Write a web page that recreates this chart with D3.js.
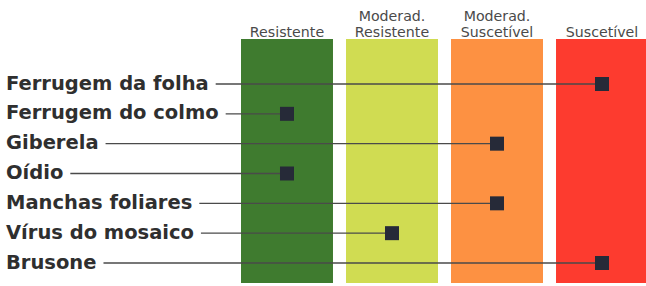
<!DOCTYPE html>
<html>
<head>
<meta charset="utf-8">
<script src="https://cdn.jsdelivr.net/npm/d3@7/dist/d3.min.js"></script>
<style>
  html, body { margin: 0; padding: 0; background: #fff; }
  svg { display: block; }
</style>
</head>
<body>
<svg id="chart" width="646" height="286"></svg>
<script>
// ---- data ----
const categories = ["Resistente", "Moderad. Resistente", "Moderad. Suscetível", "Suscetível"];
const categoryLines = [["Resistente"], ["Moderad.", "Resistente"], ["Moderad.", "Suscetível"], ["Suscetível"]];
const categoryColors = ["#3f7b2f", "#d0dc52", "#fd9142", "#fd3b2f"];
const diseases = ["Ferrugem da folha", "Ferrugem do colmo", "Giberela", "Oídio", "Manchas foliares", "Vírus do mosaico", "Brusone"];
const reaction = ["Suscetível", "Resistente", "Moderad. Suscetível", "Resistente", "Moderad. Suscetível", "Moderad. Resistente", "Suscetível"];

// ---- drawing ----
(function () {
  const svg = d3.select("#chart");
  const x = d3.scaleBand().domain(categories).range([241, 648]).paddingInner(0.124).paddingOuter(0);
  const y = d3.scalePoint().domain(diseases).range([84, 263]).padding(0);
  const colTop = 39, colBottom = 283;

  // columns
  svg.append("g").selectAll("rect").data(categories).join("rect")
    .attr("x", d => x(d)).attr("y", colTop)
    .attr("width", x.bandwidth()).attr("height", colBottom - colTop)
    .attr("fill", (d, i) => categoryColors[i]);

  // column headers
  const hdr = svg.append("g")
    .attr("font-family", "DejaVu Sans, sans-serif")
    .attr("font-size", 14.2)
    .attr("fill", "#4a4a4a")
    .attr("text-anchor", "middle");
  categories.forEach((c, i) => {
    const lines = categoryLines[i];
    lines.forEach((t, j) => {
      hdr.append("text")
        .attr("x", x(c) + x.bandwidth() / 2)
        .attr("y", 37 - (lines.length - 1 - j) * 16)
        .text(t);
    });
  });

  // rows
  const rows = svg.append("g").selectAll("g").data(diseases).join("g");
  const labels = rows.append("text")
    .attr("x", 6)
    .attr("y", d => y(d) + 5.5)
    .attr("font-family", "DejaVu Sans, sans-serif")
    .attr("font-weight", "bold")
    .attr("font-size", 19.5)
    .attr("fill", "#2f2f2f")
    .text(d => d);

  labels.each(function (d, i) {
    const w = this.getComputedTextLength();
    const cx = x(reaction[i]) + x.bandwidth() / 2;
    const g = d3.select(this.parentNode);
    g.append("line")
      .attr("x1", 6 + w + 7).attr("x2", cx)
      .attr("y1", y(d)).attr("y2", y(d))
      .attr("stroke", "#4a4a4a").attr("stroke-width", 1.4);
    g.append("rect")
      .attr("x", cx - 7).attr("y", y(d) - 7)
      .attr("width", 14).attr("height", 14)
      .attr("fill", "#262a38");
  });
})();
</script>
</body>
</html>
